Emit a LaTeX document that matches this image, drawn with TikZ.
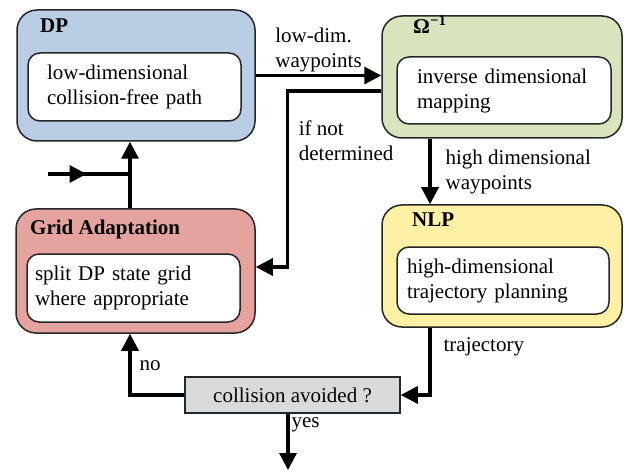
\documentclass[tikz,border=0pt]{standalone}
\usepackage{fontspec}
\setmainfont{Liberation Serif}
\usetikzlibrary{arrows.meta, decorations.markings}
\definecolor{dpblue}{RGB}{185,205,229}
\definecolor{omgreen}{RGB}{215,228,189}
\definecolor{nlpyellow}{RGB}{254,240,165}
\definecolor{gridred}{RGB}{229,163,160}
\definecolor{checkgray}{RGB}{217,218,219}
\tikzstyle{block} = [rectangle, rounded corners=20pt, draw=black!85, line width=1.5pt]
\tikzstyle{inner} = [rectangle, rounded corners=12pt, draw=black!85, line width=1.5pt, fill=white, minimum height=68pt, align=left]
\tikzstyle{title} = [anchor=base west, inner sep=0pt, font=\fontsize{21}{25}\selectfont\bfseries]
\tikzstyle{check} = [rectangle, draw=black!85, line width=1.5pt, fill=checkgray, minimum width=215pt, minimum height=36pt]
\tikzstyle{arrow} = [line width=3.2pt, ->, >={Triangle[length=17pt,width=17pt]}]
\tikzstyle{feed} = [line width=3.2pt, postaction={decorate}, decoration={markings, mark=at position 0.47 with {\arrow{Triangle[length=17pt,width=17pt]}}}]
\tikzstyle{lbl} = [inner sep=2pt, align=left]

\begin{document}
\begin{tikzpicture}[x=1pt, y=-1pt, font=\fontsize{21}{25}\selectfont]
	\useasboundingbox (0,0) rectangle (629,473);
	% blocks
	\node[block, fill=dpblue, minimum width=238pt, minimum height=131pt] (dp) at (136,75.5) {};
	\node[block, fill=omgreen, minimum width=240pt, minimum height=122pt] (om) at (502,77) {};
	\node[block, fill=nlpyellow, minimum width=240pt, minimum height=122pt] (nlp) at (502,266) {};
	\node[block, fill=gridred, minimum width=239pt, minimum height=124pt] (grid) at (135.5,271) {};
	
	\node[title] (dpT) at (40,33) {DP};
	\node[title] (omT) at (413,34) {Ω\raisebox{0.42em}{\fontsize{15}{15}\selectfont −1}};
	\node[title] (nlpT) at (412,226) {NLP};
	\node[title] (gridT) at (30,235) {Grid Adaptation};
	
	\node[inner, inner xsep=19pt, text width=175pt] (dpIn) at (134.5,87) {low-dimensional\\collision-free path};
	\node[inner, inner xsep=20pt, text width=174pt, minimum height=67pt] (omIn) at (504,90.5) {inverse dimensional\\mapping};
	\node[inner, inner xsep=10pt, text width=192pt, minimum height=67pt] (nlpIn) at (503,280.5) {high-dimensional\\trajectory planning};
	\node[inner, inner xsep=8pt, text width=197pt] (gridIn) at (133.5,288) {split DP state grid\\where appropriate};
	
	\node[check] (coll) at (292.5,395) {collision avoided ?};
	
	\coordinate (in) at (48,174);
	\coordinate (join) at (130,174);
	\coordinate (exit) at (288,470);
	
	% connections
	\draw [arrow] (dp.east) -- node[lbl, above] {low-dim.\\waypoints} (dp.east -| om.west);
	\draw [arrow] ([yshift=-14pt]om.west) -- ++(-94,0) |- node[lbl, pos=0.14, right, xshift=8pt] {if not\\determined} ([yshift=4pt]grid.east);
	\draw [arrow] ([xshift=-72pt]om.south) -- node[lbl, right, xshift=12pt] {high dimensional\\waypoints} ([xshift=-72pt]nlp.north);
	\draw [arrow] ([xshift=-72pt]nlp.south) |- node[lbl, pos=0.14, right, xshift=10pt] {trajectory} (coll.east);
	\draw [arrow] (coll.west) -| node[lbl, pos=0.74, right, xshift=6pt] {no} ([xshift=-5.5pt]grid.south);
	\draw [arrow] ([xshift=-4.5pt]coll.south) -- node[lbl, pos=0.2, right] {yes} (exit);
	\draw [arrow] ([xshift=-5.5pt]grid.north) -- ([xshift=-6pt]dp.south);
	\draw [feed] (in) -- (join);
	
\end{tikzpicture}
\end{document}
